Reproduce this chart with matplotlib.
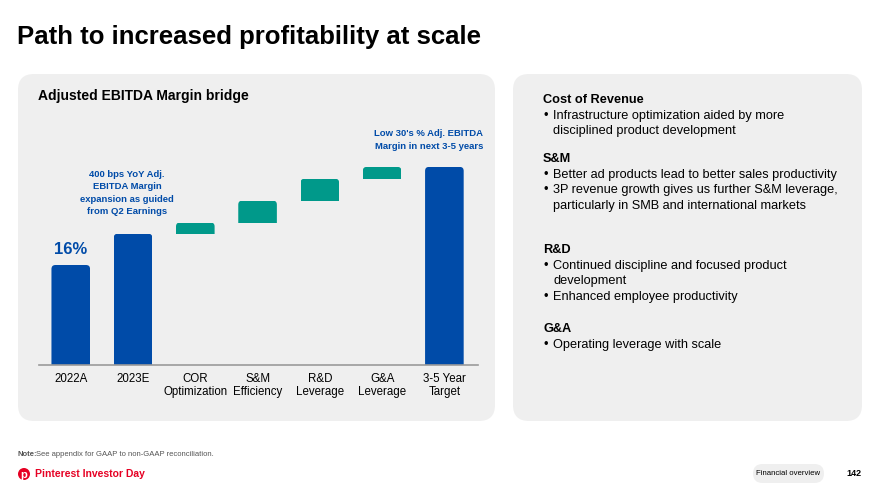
import numpy as np
import matplotlib
matplotlib.use("Agg")
import matplotlib.pyplot as plt
from matplotlib.patches import FancyBboxPatch, Circle

plt.rcParams['font.family'] = ['Liberation Sans', 'DejaVu Sans']

# bridge data (Adj. EBITDA margin, %)
categories = ["2022A", "2023E", "COR\nOptimization", "S&M\nEfficiency",
              "R&D\nLeverage", "G&A\nLeverage", "3-5 Year\nTarget"]
steps = [16.0, 21.0, 1.8, 3.5, 3.5, 1.9, 31.7]
is_total = [True, True, False, False, False, False, True]

BLUE = "#004BA8"
TEAL = "#00998A"
PANEL = "#EFEFEF"
RED = "#E60023"

fig = plt.figure(figsize=(8.8, 4.95), dpi=100)
bg = fig.add_axes([0, 0, 1, 1])
bg.set_xlim(0, 880)
bg.set_ylim(495, 0)
bg.axis('off')

# panels
for x0, x1 in [(18, 495), (513, 862)]:
    bg.add_patch(FancyBboxPatch((x0, 74), x1 - x0, 347,
                                boxstyle="round,pad=0,rounding_size=16",
                                fc=PANEL, ec='none'))

bg.text(17, 37, "Path to increased profitability at scale", fontsize=18.5,
        fontweight='bold', va='center', ha='left', color='black')
bg.text(38, 96, "Adjusted EBITDA Margin bridge", fontsize=10,
        fontweight='bold', va='center', ha='left')

# chart axes in pixel positions
ax_w, ax_h = 439, 265
ax = fig.add_axes([39 / 880, 130 / 495, ax_w / 880, ax_h / 495])
ax.patch.set_alpha(0)
xlim = (-0.51, 6.54)
ylim = (0, 42.4)
x = np.arange(len(categories))
bottoms = []
run = 0
for v, tot in zip(steps, is_total):
    if tot:
        bottoms.append(0)
        run = v
    else:
        bottoms.append(run)
        run += v
colors = [BLUE if t else TEAL for t in is_total]
bars = ax.bar(x, steps, bottom=bottoms, width=0.62, color=colors)

# rounded top corners: rounded box pushed below the bar bottom, clipped by the bar
px_x = ax_w / (xlim[1] - xlim[0])
px_y = ax_h / (ylim[1] - ylim[0])
rr_y = 5 / px_y
for r, c in zip(bars, colors):
    x0, y0, w, h = r.get_x(), r.get_y(), r.get_width(), r.get_height()
    r.set_visible(False)
    p = FancyBboxPatch((x0, y0 - rr_y), w, h + rr_y,
                       boxstyle="round,pad=0,rounding_size=%f" % (4 / px_x),
                       mutation_aspect=px_x / px_y, fc=c, ec='none')
    ax.add_patch(p)
    p.set_clip_path(r)

ax.set_xlim(*xlim)
ax.set_ylim(*ylim)
for s in ['top', 'right', 'left']:
    ax.spines[s].set_visible(False)
ax.spines['bottom'].set_color('#9A9A9A')
ax.spines['bottom'].set_linewidth(1.2)
ax.spines['bottom'].set_zorder(5)
ax.set_yticks([])
ax.set_xticks(x)
ax.set_xticklabels(categories, fontsize=8.3, linespacing=1.1)
ax.tick_params(axis='x', length=0, pad=6)

ax.text(0, steps[0] + 1.2, "16%", ha='center', va='bottom', fontsize=12,
        fontweight='bold', color=BLUE)

bg.text(127, 193, "400 bps YoY Adj.\nEBITDA Margin\nexpansion as guided\nfrom Q2 Earnings",
        ha='center', va='center', fontsize=6.8, fontweight='bold', color=BLUE,
        linespacing=1.5)
bg.text(483, 140, "Low 30's % Adj. EBITDA\nMargin in next 3-5 years",
        ha='right', va='center', fontsize=6.8, fontweight='bold', color=BLUE,
        linespacing=1.5)

# right panel text
rows = [
    ("h", 100, "Cost of Revenue"),
    ("b", 116, "Infrastructure optimization aided by more"),
    ("c", 131, "disciplined product development"),
    ("h", 159, "S&M"),
    ("b", 175, "Better ad products lead to better sales productivity"),
    ("b", 190, "3P revenue growth gives us further S&M leverage,"),
    ("c", 206, "particularly in SMB and international markets"),
    ("h", 250, "R&D"),
    ("b", 266, "Continued discipline and focused product"),
    ("c", 281, "development"),
    ("b", 297, "Enhanced employee productivity"),
    ("h", 329, "G&A"),
    ("b", 345, "Operating leverage with scale"),
]
for kind, y, txt in rows:
    if kind == "h":
        bg.text(543, y, txt, fontsize=9.2, fontweight='bold', va='center')
    else:
        if kind == "b":
            bg.text(544, y, "\u2022", fontsize=9.2, va='center')
        bg.text(553, y, txt, fontsize=9.2, va='center')

# footer
bg.text(18, 455, "Note:", fontsize=5.5, fontweight='bold', va='center', color='#555555')
bg.text(36, 455, "See appendix for GAAP to non-GAAP reconciliation.", fontsize=5.5,
        va='center', color='#555555')
bg.add_patch(Circle((24, 474), 6, fc=RED, ec='none'))
bg.text(24, 474.5, "p", fontsize=8, fontweight='bold', color='white',
        ha='center', va='center')
bg.text(35, 474, "Pinterest Investor Day", fontsize=7.5, fontweight='bold',
        color=RED, va='center')
bg.add_patch(FancyBboxPatch((753, 464), 71, 19, boxstyle="round,pad=0,rounding_size=9.5",
                            fc=PANEL, ec='none'))
bg.text(788, 473.5, "Financial overview", fontsize=5.6, ha='center', va='center')
bg.text(854, 473.5, "142", fontsize=6.5, fontweight='bold', ha='center', va='center')

fig.savefig("out.png", dpi=100)
